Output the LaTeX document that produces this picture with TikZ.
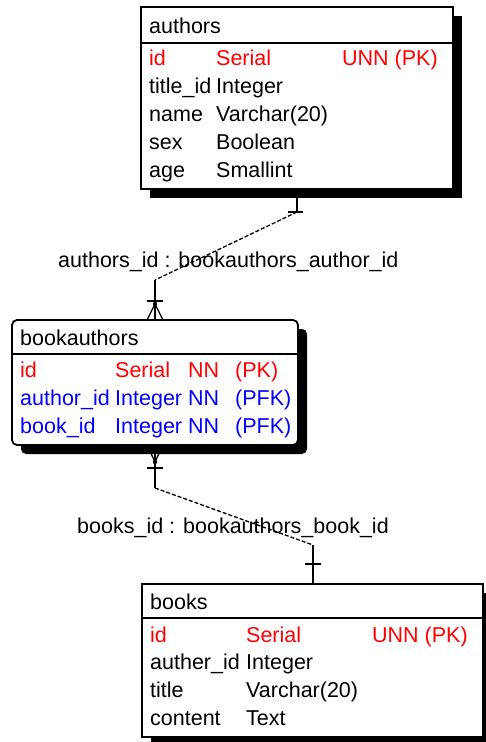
\documentclass[tikz,border=0pt]{standalone}
\usepackage{fontspec}
\setmainfont{Liberation Sans}
\usepackage{tikz}
\usetikzlibrary{calc, shadows}
\pgfdeclarelayer{bg}
\pgfsetlayers{bg,main}

\tikzset{
	tbl/.style={draw, line width=1.8, fill=white, anchor=north west, inner sep=0, outer sep=0,
		drop shadow={fill=black, opacity=1, shadow xshift=9pt, shadow yshift=-9pt}},
	fld/.style={anchor=base west, inner sep=0, font=\fontsize{21.5}{26}\selectfont},
	pk/.style={fld, text=red},
	fk/.style={fld, text=blue},
	rel/.style={line width=1.3},
	nonid/.style={rel, dash pattern=on 4pt off 2pt}
}

\begin{document}
\begin{tikzpicture}
		[x=1pt, y=-1pt]
		\useasboundingbox (0,0) rectangle (485,742);
		% tables %
		\node[tbl, minimum width=312pt, minimum height=182pt] (authors) at (141,7) {};
		\draw[line width=1.8] ([yshift=-36pt]authors.north west) -- ([yshift=-36pt]authors.north east);
		\node[tbl, rounded corners=5pt, minimum width=286pt, minimum height=125pt] (bookauthors) at (12,320) {};
		\draw[line width=1.8] ([yshift=-34pt]bookauthors.north west) -- ([yshift=-34pt]bookauthors.north east);
		\node[tbl, minimum width=341pt, minimum height=153pt] (books) at (142,584) {};
		\draw[line width=1.8] ([yshift=-34pt]books.north west) -- ([yshift=-34pt]books.north east);

		% fields %
		\node[fld] (authors-name) at (149,33) {authors};
		\node[pk] (authors-id) at (149,65) {id};
		\node[pk] (authors-id-t) at (216,65) {Serial};
		\node[pk] (authors-id-c) at (342,65) {UNN (PK)};
		\foreach \f/\t [count=\i] in {title\_id/Integer, name/Varchar(20), sex/Boolean, age/Smallint} {
			\node[fld] (authors-f\i) at (149,65+28*\i) {\f};
			\node[fld] (authors-t\i) at (216,65+28*\i) {\t};
		}

		\node[fld] (bookauthors-name) at (20,345) {bookauthors};
		\node[pk] (bookauthors-id) at (20,377) {id};
		\node[pk] (bookauthors-id-t) at (115,377) {Serial};
		\node[pk] (bookauthors-id-n) at (188,377) {NN};
		\node[pk] (bookauthors-id-c) at (235,377) {(PK)};
		\foreach \f [count=\i] in {author\_id, book\_id} {
			\node[fk] (bookauthors-f\i) at (20,377+28*\i) {\f};
			\node[fk] (bookauthors-t\i) at (115,377+28*\i) {Integer};
			\node[fk] (bookauthors-n\i) at (188,377+28*\i) {NN};
			\node[fk] (bookauthors-c\i) at (235,377+28*\i) {(PFK)};
		}

		\node[fld] (books-name) at (150,609) {books};
		\node[pk] (books-id) at (150,642) {id};
		\node[pk] (books-id-t) at (246,642) {Serial};
		\node[pk] (books-id-c) at (372,642) {UNN (PK)};
		\foreach \f/\t [count=\i] in {auther\_id/Integer, title/Varchar(20), content/Text} {
			\node[fld] (books-f\i) at (150,642+27.7*\i) {\f};
			\node[fld] (books-t\i) at (246,642+27.7*\i) {\t};
		}

		% labels %
		\node[fld] (rel-authors) at (58,267) {authors\_id : bookauthors\_author\_id};
		\node[fld] (rel-books) at (77,533) {books\_id : bookauthors\_book\_id};

		% edges %
		\begin{pgfonlayer}{bg}
		\coordinate (ab1) at (297,212);
		\coordinate (ab2) at (155,280);
		\coordinate (ba-n) at (ab2 |- bookauthors.north);
		\draw[rel] (authors.south -| ab1) -- (ab1);
		\draw[rel] ($(ab1)+(-9,0)$) -- ($(ab1)+(6,0)$);
		\draw[nonid] (ab1) -- (ab2);
		\draw[rel] (ab2) -- (ba-n);
		\draw[rel] ($(ba-n)+(-8,-19)$) -- ($(ba-n)+(8,-19)$);
		\draw[rel] ($(ba-n)+(-8,0)$) -- ($(ba-n)+(0,-16)$) -- ($(ba-n)+(8,0)$);
		\fill ($(ba-n)+(0,-16)$) circle (2.2);

		\coordinate (bb1) at (155,488);
		\coordinate (bb2) at (313,545);
		\coordinate (ba-s) at (bb1 |- bookauthors.south);
		\coordinate (bk-n) at (bb2 |- books.north);
		\draw[rel] (ba-s) -- (bb1);
		\draw[rel] ($(ba-s)+(-8,0)$) -- ($(ba-s)+(0,17)$) -- ($(ba-s)+(8,0)$);
		\fill ($(ba-s)+(0,17)$) circle (2.2);
		\draw[rel] ($(ba-s)+(-8,23)$) -- ($(ba-s)+(8,23)$);
		\draw[nonid] (bb1) -- (bb2);
		\draw[rel] (bb2) -- (bk-n);
		\draw[rel] ($(bk-n)+(-8,-20)$) -- ($(bk-n)+(8,-20)$);
		\end{pgfonlayer}
		\end{tikzpicture}
\end{document}
